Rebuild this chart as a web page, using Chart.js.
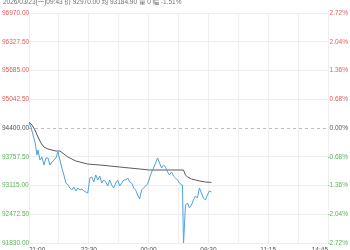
<!DOCTYPE html>
<html>
<head>
<meta charset="utf-8">
<script src="https://cdn.jsdelivr.net/npm/chart.js@4"></script>
<style>
  html, body { margin: 0; padding: 0; background: #fff; }
  #wrap { width: 350px; height: 250px; }
</style>
</head>
<body>
<div id="wrap"><canvas id="myChart"></canvas></div>
<script>
const titleText = '2026/03/23(一)09:43 价 92970.00 均 93184.90 量 0 幅 -1.51%';
const prevClose = 94400;

const priceLevels = [91830, 92472.5, 93115, 93757.5, 94400, 95042.5, 95685, 96327.5, 96970];
const timeLabels = ['21:00', '22:30', '00:00', '09:30', '11:15', '14:45'];

const priceTime = [0, 2, 4, 6, 7, 8, 9, 11, 13, 15, 17, 19, 21, 23, 25, 27, 29, 31, 33, 35, 37, 39, 41, 43, 45, 47, 49, 51, 53, 55, 57, 59,
  61, 63, 65, 67, 69, 71, 73, 75, 77, 79, 81, 83, 85, 87, 89, 91, 93, 95, 97, 99, 101, 103, 105, 107, 109, 111, 113, 115, 117, 119,
  121, 123, 125, 127, 129, 131, 133, 135, 137, 139, 141, 143, 145, 147, 149, 151, 153, 154, 155, 156, 157, 159, 161, 163, 165, 167,
  169, 171, 173, 175, 177, 179, 181, 183];
const priceValues = [94534, 94422, 94244, 94087, 93953, 93797, 93908, 93685, 93752, 93573, 93730, 93730, 93573, 93640, 93685, 93730,
  93864, 93685, 93506, 93350, 93171, 93126, 93059, 93014, 93081, 92992, 93059, 93014, 93037, 92992, 92970, 92947,
  93283, 93305, 93193, 93350, 93238, 93327, 93171, 93238, 93193, 93104, 93238, 93126, 93059, 93171, 93238, 93104,
  93171, 93238, 93238, 93283, 93193, 93171, 93059, 93014, 92903, 92813, 93014, 93059, 93104, 93149,
  93283, 93417, 93506, 93618, 93730, 93618, 93506, 93573, 93528, 93417, 93350, 93417, 93327, 93283, 93238, 93171,
  93126, 93126, 91800, 92232, 92679, 92724, 92616, 92679, 92791, 92880, 92836, 93059, 92947, 92836, 92791, 92903,
  92992, 92970];

const avgTime = [0, 3, 6, 9, 12, 15, 19, 23, 27, 31, 35, 39, 43, 47, 51, 59, 71, 81, 91, 101, 111, 121, 155, 157, 159, 163, 167, 171, 177, 183];
const avgValues = [94534, 94467, 94355, 94199, 94065, 93975, 93931, 93908, 93886, 93886, 93819, 93752, 93707, 93662, 93640, 93595,
  93573, 93551, 93528, 93506, 93484, 93461, 93461, 93350, 93305, 93260, 93238, 93216, 93193, 93185];

const red = 'rgb(224, 90, 90)';
const green = 'rgb(88, 178, 88)';
const grey = 'rgb(80, 80, 80)';

function levelColor(v) {
    if (Math.abs(v - prevClose) < 1) return grey;
    return v > prevClose ? red : green;
}

const titlePlugin = {
    id: 'topTitle',
    afterDraw(chart) {
        const c = chart.ctx;
        c.save();
        c.font = '6.5px "Liberation Sans", Arial, "Noto Sans CJK SC", sans-serif';
        c.fillStyle = 'rgb(110, 110, 110)';
        c.textBaseline = 'middle';
        c.textAlign = 'left';
        c.fillText(titleText, 3, 2.5);
        c.restore();
    }
};

const ctx = document.querySelector('#myChart');

new Chart(ctx, {
    type: 'line',
    data: {
        datasets: [{
            label: 'price',
            data: priceTime.map((t, i) => ({ x: t, y: priceValues[i] })),
            borderColor: 'rgb(78, 162, 218)',
            borderWidth: 1,
            pointRadius: 0,
            tension: 0,
            fill: false
        }, {
            label: 'avg',
            data: avgTime.map((t, i) => ({ x: t, y: avgValues[i] })),
            borderColor: 'rgb(90, 90, 90)',
            borderWidth: 1,
            pointRadius: 0,
            tension: 0,
            fill: false
        }]
    },
    options: {
        responsive: true,
        maintainAspectRatio: false,
        animation: false,
        layout: { padding: { top: 13, left: 2, right: 2, bottom: 0 } },
        plugins: {
            legend: { display: false },
            tooltip: { enabled: false }
        },
        scales: {
            x: {
                type: 'linear',
                min: 0,
                max: 300,
                afterBuildTicks: (scale) => {
                    scale.ticks = [];
                    for (let v = 0; v <= 300; v += 30) scale.ticks.push({ value: v });
                },
                afterFit: (scale) => { scale.height = 7; },
                grid: { color: 'rgb(238, 238, 238)', drawTicks: false },
                border: { display: false },
                ticks: {
                    autoSkip: false,
                    maxRotation: 0,
                    padding: 3,
                    align: 'inner',
                    color: grey,
                    font: { size: 6.5, family: '"Liberation Sans", Arial' },
                    callback: (v) => (v % 60 === 0 ? timeLabels[v / 60] : '')
                }
            },
            y: {
                position: 'left',
                min: 91830,
                max: 96970,
                afterBuildTicks: (scale) => { scale.ticks = priceLevels.map(v => ({ value: v })); },
                afterFit: (scale) => { scale.width = 27; },
                grid: {
                    drawTicks: false,
                    color: (c) => (c.tick && Math.abs(c.tick.value - prevClose) < 1 ? 'rgb(190, 190, 190)' : 'rgb(238, 238, 238)')
                },
                border: {
                    display: false,
                    dash: (c) => (c.tick && Math.abs(c.tick.value - prevClose) < 1 ? [3, 3] : [])
                },
                ticks: {
                    crossAlign: 'far',
                    padding: 0,
                    color: (c) => levelColor(c.tick.value),
                    font: { size: 6.5, family: '"Liberation Sans", Arial' },
                    callback: (v) => v.toFixed(2)
                }
            },
            y2: {
                position: 'right',
                min: 91830,
                max: 96970,
                afterBuildTicks: (scale) => { scale.ticks = priceLevels.map(v => ({ value: v })); },
                afterFit: (scale) => { scale.width = 20; },
                grid: { display: false, drawTicks: false },
                border: { display: false },
                ticks: {
                    crossAlign: 'far',
                    padding: 0,
                    color: (c) => levelColor(c.tick.value),
                    font: { size: 6.5, family: '"Liberation Sans", Arial' },
                    callback: (v) => ((v - prevClose) / prevClose * 100).toFixed(2) + '%'
                }
            }
        }
    },
    plugins: [titlePlugin]
});
</script>
</body>
</html>
